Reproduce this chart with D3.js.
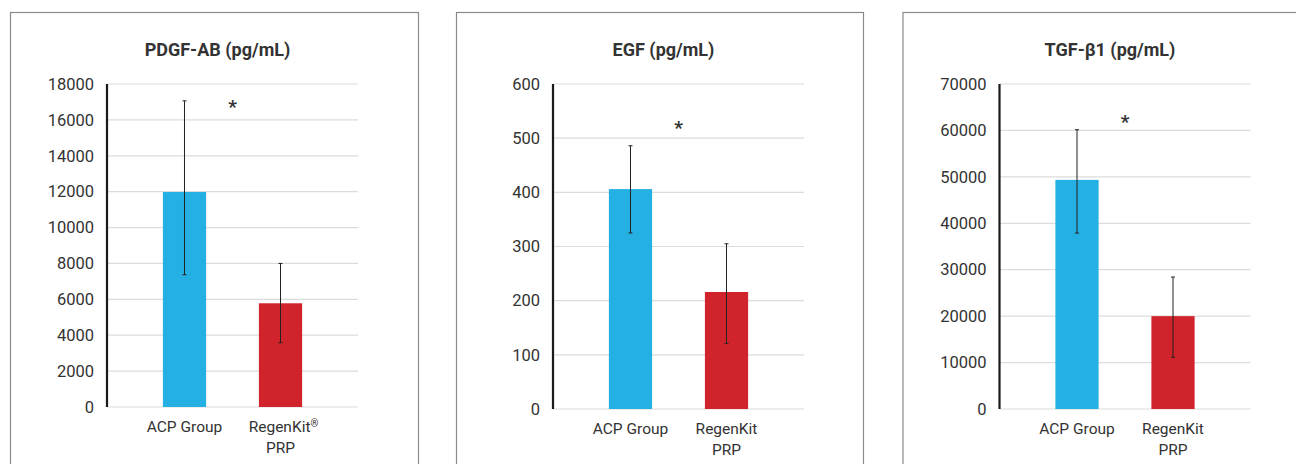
<!DOCTYPE html>
<html>
<head>
<meta charset="utf-8">
<script src="https://cdn.jsdelivr.net/npm/d3@7"></script>
<style>
  body { margin: 0; background: #fff; }
  svg { display: block; }
  text { font-family: Roboto, "Noto Sans", sans-serif; fill: #333; }
</style>
</head>
<body>
<svg id="chart" width="1296" height="464"></svg>
<script>
// chart values
const titles = ['PDGF-AB (pg/mL)', 'EGF (pg/mL)', 'TGF-β1 (pg/mL)'];
const groupLabels = [
    [['ACP Group'], ['RegenKit®', 'PRP']],
    [['ACP Group'], ['RegenKit', 'PRP']],
    [['ACP Group'], ['RegenKit', 'PRP']]
];
const yMax = [18000, 600, 70000];
const yStep = [2000, 100, 10000];
const means = [
    [11980, 5780],
    [406, 216],
    [49350, 20000]
];
const errTop = [
    [17060, 8000],
    [486, 305],
    [60150, 28430]
];
const errBottom = [
    [7370, 3580],
    [325, 121],
    [37900, 11140]
];
const starValue = [16950, 527, 62740];
const barColors = ['#25b0e3', '#d1232b'];

// layout of the three boxes
const panelX = [10, 456, 902.5];
const panelW = [408, 407, 420];
const axisLeft = 97;
const plotW = 251;
const plotTop = 84;
const plotBottom = [407, 409, 409];

const svg = d3.select('#chart');

titles.forEach(function (title, i) {
    let g = svg.append('g').attr('transform', 'translate(' + panelX[i] + ',0)');

    g.append('rect')
        .attr('x', 0.5).attr('y', 12.5)
        .attr('width', panelW[i]).attr('height', 480)
        .attr('fill', '#fff')
        .attr('stroke', '#8a8a8a')
        .attr('stroke-width', 1.2);

    let y = d3.scaleLinear().domain([0, yMax[i]]).range([plotBottom[i], plotTop]);
    let x = d3.scaleBand()
        .domain([0, 1])
        .range([axisLeft, axisLeft + plotW])
        .paddingInner(0.55)
        .paddingOuter(0.582);

    let ticks = d3.range(0, yMax[i] + yStep[i] / 2, yStep[i]);

    // gridlines
    g.append('g').selectAll('line').data(ticks).join('line')
        .attr('x1', axisLeft).attr('x2', axisLeft + plotW)
        .attr('y1', d => y(d)).attr('y2', d => y(d))
        .attr('stroke', '#dcdcdc')
        .attr('stroke-width', 1.2);

    // y tick labels via axis
    let yAxis = d3.axisLeft(y).tickValues(ticks).tickSize(0).tickPadding(13).tickFormat(d3.format('d'));
    let ya = g.append('g').attr('transform', 'translate(' + axisLeft + ',0)').call(yAxis);
    ya.select('.domain').remove();
    ya.selectAll('text')
        .attr('font-size', 16.5)
        .attr('font-family', 'Roboto, sans-serif')
        .attr('fill', '#333');

    // bars
    g.append('g').selectAll('rect').data(means[i]).join('rect')
        .attr('x', (d, j) => x(j))
        .attr('width', x.bandwidth())
        .attr('y', d => y(d))
        .attr('height', d => y(0) - y(d))
        .attr('fill', (d, j) => barColors[j]);

    // error bars
    let eb = g.append('g').selectAll('g').data(means[i]).join('g');
    eb.append('line')
        .attr('x1', (d, j) => x(j) + x.bandwidth() / 2)
        .attr('x2', (d, j) => x(j) + x.bandwidth() / 2)
        .attr('y1', (d, j) => y(errTop[i][j]))
        .attr('y2', (d, j) => y(errBottom[i][j]))
        .attr('stroke', '#222').attr('stroke-width', 1);
    [errTop[i], errBottom[i]].forEach(function (vals) {
        eb.append('line')
            .attr('x1', (d, j) => x(j) + x.bandwidth() / 2 - 2)
            .attr('x2', (d, j) => x(j) + x.bandwidth() / 2 + 2)
            .attr('y1', (d, j) => y(vals[j]))
            .attr('y2', (d, j) => y(vals[j]))
            .attr('stroke', '#222').attr('stroke-width', 1);
    });

    // y axis line
    g.append('line')
        .attr('x1', axisLeft).attr('x2', axisLeft)
        .attr('y1', y(yMax[i])).attr('y2', y(0))
        .attr('stroke', '#1a1a1a').attr('stroke-width', 2.2);

    // significance star between groups
    g.append('text')
        .attr('x', axisLeft + plotW / 2)
        .attr('y', y(starValue[i]) + 10)
        .attr('text-anchor', 'middle')
        .attr('font-size', 19)
        .attr('font-weight', 'bold')
        .attr('fill', '#222')
        .text('*');

    // category labels, one text per line
    groupLabels[i].forEach(function (lines, j) {
        let cx = x(j) + x.bandwidth() / 2;
        lines.forEach(function (line, k) {
            let t = g.append('text')
                .attr('x', cx)
                .attr('y', plotBottom[i] + 25 + k * 20.5)
                .attr('text-anchor', 'middle')
                .attr('font-size', 15.5)
                .attr('fill', '#333');
            if (line.endsWith('®')) {
                t.attr('x', cx + 3);
                t.append('tspan').text(line.slice(0, -1));
                t.append('tspan').attr('font-size', 10).attr('baseline-shift', '55%').text('®');
            } else {
                t.text(line);
            }
        });
    });

    // title
    g.append('text')
        .attr('x', axisLeft + plotW / 2 - 15)
        .attr('y', 56)
        .attr('text-anchor', 'middle')
        .attr('font-family', '"Open Sans", sans-serif')
        .attr('font-size', 18)
        .attr('font-weight', 'bold')
        .attr('fill', '#222')
        .text(title);
});
</script>
</body>
</html>
